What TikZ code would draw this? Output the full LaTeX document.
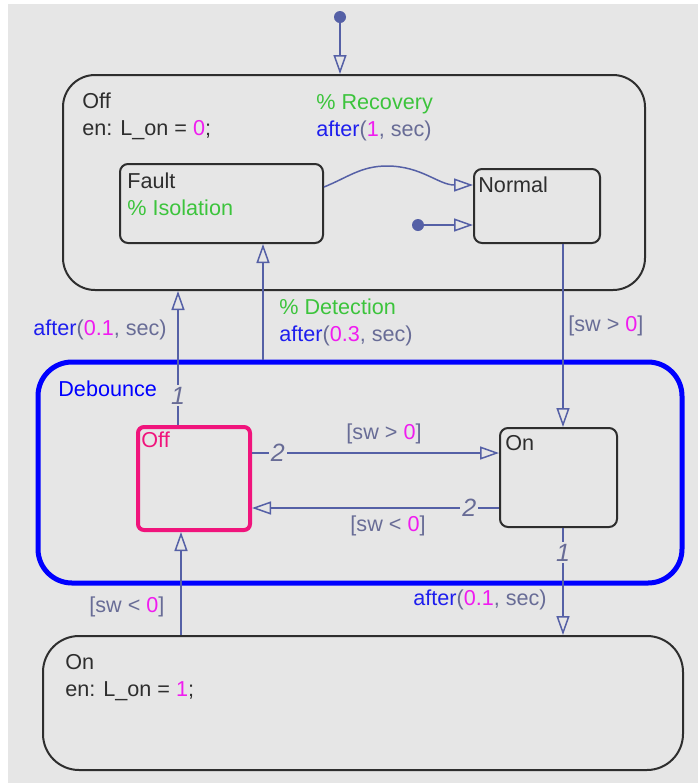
\documentclass[tikz,border=0pt]{standalone}
\usepackage{fontspec}
\setmainfont{Liberation Sans}
\usetikzlibrary{arrows.meta}
\definecolor{Canvas}{HTML}{E6E6E6}
\definecolor{Ink}{HTML}{2E2E2E}
\definecolor{Wire}{HTML}{5560A6}
\definecolor{Plain}{HTML}{686C96}
\definecolor{Key}{HTML}{1E1EEE}
\definecolor{Num}{HTML}{F01CF0}
\definecolor{Note}{HTML}{3CC43C}
\definecolor{Deb}{HTML}{0000FF}
\definecolor{Act}{HTML}{F0147C}
\newcommand\kw[1]{\textcolor{Key}{#1}}
\newcommand\nm[1]{\textcolor{Num}{#1}}
\newcommand\cm[1]{\textcolor{Note}{#1}}
\tikzset{state/.style={draw=Ink,line width=1pt,rounded corners=4pt,inner sep=0pt},super/.style={state,rounded corners=16pt},txt/.style={inner sep=0pt,anchor=west,align=left,text=Ink,font=\fontsize{10.8}{13.5}\selectfont},lbl/.style={txt,text=Plain},trans/.style={draw=Wire,line width=.75pt,-{Triangle[open,length=9.5pt,width=6.5pt]}},num/.style={fill=Canvas,inner sep=1pt,text=Plain,font=\fontsize{12.5}{12.5}\selectfont\itshape},dot/.style={circle,fill=Wire,minimum size=6pt,inner sep=0pt}}
\begin{document}
\begin{tikzpicture}[x=.5pt,y=-.5pt]
  \useasboundingbox (0,0) rectangle (698,783);
  \fill[Canvas] (8,4) rectangle (698,783);
  % states
  \node[super,minimum width=291pt,minimum height=107.5pt] (offS) at (354,182.5) {};
  \node[state,minimum width=101.5pt,minimum height=39.5pt] (fault) at (221.5,203.5) {};
  \node[state,minimum width=63pt,minimum height=37pt] (normal) at (537,206) {};
  \node[super,draw=Deb,line width=2.5pt,rounded corners=17pt,minimum width=322pt,minimum height=110.5pt] (deb) at (360,472.5) {};
  \node[state,draw=Act,line width=2pt,rounded corners=3pt,minimum width=56pt,minimum height=51.5pt] (dOff) at (194,478.5) {};
  \node[state,minimum width=58.5pt,minimum height=49.5pt] (dOn) at (558.5,477.5) {};
  \node[super,rounded corners=18pt,minimum width=320pt,minimum height=67pt] (onS) at (363,703) {};
  % state texts
  \node[txt] (offT) at (82,116) {Off\\en: L\_on = \nm{0};};
  \node[txt] (faultT) at (127,194.5) {Fault\\\cm{\% Isolation}};
  \node[txt] (normalT) at (478,185) {Normal};
  \node[txt,text=Deb] (debT) at (58,389) {Debounce};
  \node[txt,text=Act] (dOffT) at (141,440) {Off};
  \node[txt] (dOnT) at (505,443) {On};
  \node[txt] (onT) at (65,678) {On\\en: L\_on = \nm{1};};
  % transitions
  \coordinate (cL) at (178,0);\coordinate (cL2) at (181,0);\coordinate (cM) at (263,0);\coordinate (cR) at (563,0);
  \coordinate (rA) at (0,453);\coordinate (rB) at (0,508);\coordinate (crest) at (387,166);
  \node[dot] (init) at (340,17) {};
  \draw[trans] (init.center) -- (offS.north -| init);
  \node[dot] (initN) at (418,225) {};
  \draw[trans] (initN.center) -- (normal.west |- initN);
  \draw[trans] (fault.east |- 0,187) to[out=22,in=180] (crest) to[out=0,in=180] (normal.west |- 0,185);
  \draw[trans] (normal.south -| cR) -- (dOn.north -| cR);
  \draw[trans] (deb.north -| cM) -- (fault.south -| cM);
  \draw[trans] (dOff.north -| cL) -- node[num,pos=.22] (oneA) {1} (offS.south -| cL);
  \draw[trans] (dOff.east |- rA) -- node[num,pos=.105] (twoA) {2} (dOn.west |- rA);
  \draw[trans] (dOn.west |- rB) -- node[num,pos=.12] (twoB) {2} (dOff.east |- rB);
  \draw[trans] (dOn.south -| cR) -- node[num,pos=.23] (oneB) {1} (onS.north -| cR);
  \draw[trans] (onS.north -| cL2) -- (dOff.south -| cL2);
  % transition labels
  \node[lbl] (recL) at (316,117.5) {\cm{\% Recovery}\\\kw{after}(\nm{1}, sec)};
  \node[lbl] (detL) at (279,322.5) {\cm{\% Detection}\\\kw{after}(\nm{0.3}, sec)};
  \node[lbl] (upL) at (33,330) {\kw{after}(\nm{0.1}, sec)};
  \node[lbl] (swR) at (568,326) {[sw > \nm{0}]};
  \node[lbl,anchor=center] (swA) at (384,434) {[sw > \nm{0}]};
  \node[lbl,anchor=center] (swB) at (388,526) {[sw < \nm{0}]};
  \node[lbl] (downL) at (413,600) {\kw{after}(\nm{0.1}, sec)};
  \node[lbl] (swL) at (89,607) {[sw < \nm{0}]};
\end{tikzpicture}
\end{document}
